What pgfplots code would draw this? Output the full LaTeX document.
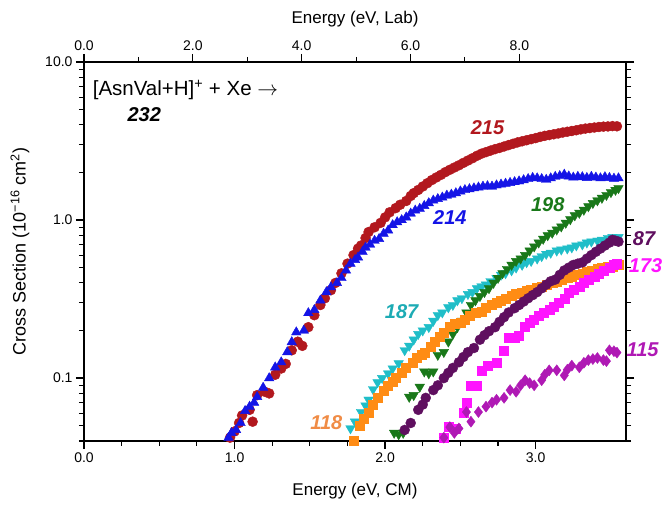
\documentclass[border=0pt]{standalone}
\usepackage{fontspec}
\setmainfont{Liberation Sans}
\usepackage{pgfplots}
\pgfplotsset{compat=1.18}
\definecolor{cRed}{RGB}{178,24,30}
\definecolor{cBlue}{RGB}{20,20,230}
\definecolor{cGreen}{RGB}{25,120,25}
\definecolor{cCyan}{RGB}{32,190,200}
\definecolor{cOrange}{RGB}{255,140,20}
\definecolor{cOrangeL}{RGB}{240,140,70}
\definecolor{cPurple}{RGB}{95,15,95}
\definecolor{cMagenta}{RGB}{255,20,255}
\definecolor{cViolet}{RGB}{175,25,180}
\begin{document}
\begin{tikzpicture}
\pgfplotsset{
  common/.style={
    scale only axis, width=542pt, height=379pt,
    tick align=outside,
    major tick length=8pt, minor tick length=5pt,
    axis line style={line width=1.3pt},
    major tick style={line width=1.3pt, black},
    minor tick style={line width=1.1pt, black},
    /pgf/number format/assume math mode=true,
    tick label style={font=\fontsize{14}{16}\selectfont},
    label style={font=\fontsize{17}{20}\selectfont},
  }
}
\begin{axis}[common,
  xmin=0, xmax=3.6, ymin=0.04, ymax=10, ymode=log,
  xtick={0,1,2,3}, minor x tick num=3, xtick pos=bottom,
  xticklabel style={/pgf/number format/.cd,fixed,fixed zerofill,precision=1},
  ytick={0.1,1,10}, yticklabels={0.1,1.0,10.0},
  minor ytick={0.04,0.05,0.06,0.07,0.08,0.09,0.2,0.3,0.4,0.5,0.6,0.7,0.8,0.9,2,3,4,5,6,7,8,9},
  ytick pos=both, yticklabel pos=left,
  xlabel={Energy (eV, CM)}, xlabel shift=14pt,
  ylabel={Cross Section (10\textsuperscript{−16} cm\textsuperscript{2})}, ylabel shift=9pt,
  ylabel style={font=\fontsize{18}{20}\selectfont},
  clip=false,
]
\addplot[only marks, mark=*, mark size=5pt, color=cRed] coordinates {
(0.97,0.042)(1.00,0.046)(1.03,0.052)(1.05,0.058)(1.10,0.063)(1.12,0.053)(1.15,0.078)(1.20,0.082)(1.23,0.080)(1.27,0.105)(1.31,0.115)(1.34,0.123)(1.38,0.150)(1.42,0.17)(1.45,0.16)(1.49,0.21)(1.53,0.25)(1.57,0.29)(1.60,0.32)(1.64,0.36)(1.67,0.40)(1.71,0.46)(1.75,0.53)(1.79,0.60)(1.82,0.66)(1.84,0.69)(1.87,0.77)(1.89,0.84)(1.93,0.90)(1.97,0.96)(2.00,1.04)(2.03,1.12)(2.07,1.19)(2.10,1.25)(2.14,1.32)(2.17,1.42)(2.19,1.48)
(2.22,1.55)(2.25,1.63)(2.28,1.71)(2.31,1.79)(2.34,1.86)(2.37,1.93)(2.40,2.01)(2.43,2.08)(2.46,2.15)(2.49,2.22)(2.52,2.30)(2.55,2.38)(2.58,2.46)(2.61,2.55)(2.64,2.63)(2.67,2.69)(2.70,2.75)(2.73,2.81)(2.76,2.86)(2.79,2.92)(2.82,2.98)(2.85,3.04)(2.88,3.10)(2.91,3.15)(2.94,3.20)(2.97,3.25)(3.00,3.30)(3.03,3.36)(3.06,3.41)(3.09,3.45)(3.12,3.49)(3.15,3.53)(3.18,3.58)(3.21,3.62)(3.24,3.66)(3.27,3.70)(3.30,3.75)(3.33,3.79)(3.36,3.82)(3.39,3.85)(3.42,3.88)(3.45,3.90)(3.48,3.91)(3.51,3.93)(3.54,3.92)
};
\addplot[only marks, mark=triangle*, mark size=5.5pt, color=cBlue] coordinates {
(0.96,0.042)(0.98,0.045)(1.01,0.047)(1.04,0.052)(1.07,0.062)(1.10,0.066)(1.13,0.070)(1.15,0.076)(1.19,0.087)(1.23,0.100)(1.27,0.117)(1.31,0.126)(1.35,0.146)(1.38,0.169)(1.41,0.195)(1.46,0.20)(1.49,0.258)(1.53,0.27)(1.57,0.31)(1.61,0.35)(1.64,0.376)(1.68,0.40)(1.71,0.43)(1.74,0.48)(1.77,0.53)(1.80,0.56)(1.82,0.58)(1.85,0.63)(1.87,0.67)(1.90,0.70)(1.93,0.74)(1.96,0.76)(1.99,0.82)(2.02,0.86)(2.05,0.93)(2.08,0.97)(2.11,1.00)(2.14,1.04)(2.17,1.10)(2.20,1.15)(2.23,1.18)(2.26,1.23)(2.29,1.28)(2.32,1.33)(2.35,1.36)(2.38,1.39)(2.41,1.43)(2.44,1.45)(2.47,1.48)(2.50,1.52)(2.53,1.55)(2.56,1.57)(2.59,1.59)(2.62,1.61)(2.65,1.63)(2.68,1.64)(2.71,1.63)(2.74,1.66)(2.77,1.68)(2.80,1.70)(2.83,1.72)(2.86,1.74)(2.89,1.76)(2.92,1.79)(2.95,1.82)(2.98,1.85)(3.01,1.84)(3.04,1.82)(3.07,1.80)(3.10,1.84)(3.13,1.88)(3.16,1.90)(3.19,1.94)(3.22,1.89)(3.25,1.86)(3.28,1.88)(3.31,1.87)(3.34,1.85)(3.37,1.88)(3.40,1.86)(3.43,1.84)(3.46,1.87)(3.49,1.85)(3.52,1.83)(3.55,1.84)
};
\addplot[only marks, mark=triangle*, mark size=5.5pt, mark options={rotate=180}, color=cCyan] coordinates {
(1.77,0.048)(1.80,0.053)(1.84,0.061)(1.87,0.067)(1.89,0.073)(1.92,0.085)(1.95,0.094)(1.98,0.10)(2.02,0.107)(2.05,0.115)(2.09,0.124)(2.13,0.15)(2.16,0.16)(2.19,0.175)(2.22,0.19)(2.25,0.20)(2.29,0.21)(2.32,0.23)(2.35,0.25)(2.38,0.26)(2.42,0.28)(2.45,0.29)(2.48,0.31)(2.51,0.32)(2.55,0.34)(2.58,0.35)(2.61,0.37)(2.64,0.38)(2.67,0.39)(2.70,0.41)(2.74,0.43)(2.77,0.45)(2.80,0.46)(2.84,0.48)(2.87,0.50)(2.91,0.52)(2.94,0.54)(2.97,0.55)(3.01,0.57)(3.04,0.59)(3.07,0.61)(3.10,0.62)(3.14,0.64)(3.17,0.65)(3.21,0.66)(3.24,0.67)(3.27,0.69)(3.31,0.70)(3.34,0.72)(3.37,0.73)(3.41,0.74)(3.44,0.75)(3.48,0.77)(3.51,0.78)(3.55,0.78)
};
\addplot[only marks, mark=triangle*, mark size=5.5pt, mark options={rotate=180}, color=cGreen] coordinates {
(2.06,0.045)(2.09,0.044)(2.12,0.045)(2.16,0.076)(2.19,0.078)(2.23,0.088)(2.26,0.11)(2.29,0.107)(2.32,0.11)(2.35,0.14)(2.39,0.146)(2.42,0.17)(2.45,0.19)(2.48,0.21)(2.51,0.23)(2.54,0.26)(2.57,0.29)(2.60,0.31)(2.63,0.33)(2.66,0.35)(2.69,0.37)(2.72,0.40)(2.75,0.43)(2.78,0.46)(2.81,0.49)(2.84,0.52)(2.87,0.55)(2.90,0.57)(2.93,0.60)(2.96,0.64)(2.99,0.68)(3.02,0.72)(3.05,0.76)(3.08,0.80)(3.11,0.83)(3.14,0.87)(3.17,0.91)(3.20,0.96)(3.23,1.01)(3.26,1.07)(3.29,1.11)(3.32,1.16)(3.35,1.22)(3.38,1.28)(3.41,1.33)(3.44,1.38)(3.47,1.44)(3.50,1.50)(3.53,1.55)(3.55,1.59)
};
\addplot[only marks, mark=square*, mark size=4.5pt, color=cOrange] coordinates {
(1.79,0.040)(1.83,0.05)(1.86,0.055)(1.89,0.06)(1.92,0.068)(1.95,0.075)(1.99,0.083)(2.02,0.09)(2.05,0.095)(2.07,0.10)(2.11,0.108)(2.14,0.116)(2.18,0.125)(2.21,0.134)(2.24,0.14)(2.26,0.144)(2.30,0.158)(2.33,0.17)(2.36,0.183)(2.39,0.195)(2.43,0.21)(2.46,0.22)(2.50,0.225)(2.53,0.235)(2.56,0.25)(2.60,0.26)(2.64,0.265)(2.67,0.28)(2.71,0.29)(2.74,0.30)(2.77,0.31)(2.80,0.32)(2.84,0.33)(2.87,0.34)(2.91,0.345)(2.94,0.355)(2.97,0.365)(3.01,0.375)(3.04,0.38)(3.07,0.39)(3.11,0.40)(3.14,0.41)(3.17,0.42)(3.21,0.43)(3.24,0.44)(3.27,0.45)(3.31,0.46)(3.34,0.47)(3.37,0.48)(3.41,0.49)(3.44,0.50)(3.48,0.505)(3.51,0.51)(3.55,0.52)
};
\addplot[only marks, mark=*, mark size=5pt, color=cPurple] coordinates {
(2.13,0.047)(2.17,0.052)(2.22,0.063)(2.25,0.068)(2.27,0.075)(2.32,0.084)(2.35,0.090)(2.39,0.10)(2.42,0.108)(2.45,0.116)(2.49,0.126)(2.52,0.136)(2.55,0.146)(2.59,0.155)(2.63,0.175)(2.66,0.187)(2.69,0.198)(2.73,0.21)(2.76,0.227)(2.79,0.243)(2.82,0.26)(2.86,0.277)(2.89,0.29)(2.92,0.305)(2.95,0.32)(2.98,0.335)(3.01,0.35)(3.04,0.37)(3.07,0.39)(3.10,0.41)(3.13,0.42)(3.16,0.45)(3.19,0.48)(3.22,0.50)(3.25,0.52)(3.28,0.53)(3.31,0.54)(3.34,0.57)(3.37,0.60)(3.40,0.63)(3.43,0.66)(3.46,0.69)(3.49,0.72)(3.51,0.75)(3.53,0.74)(3.55,0.73)
};
\addplot[only marks, mark=square*, mark size=4.5pt, color=cMagenta] coordinates {
(2.39,0.042)(2.42,0.049)(2.47,0.048)(2.52,0.06)(2.54,0.07)(2.57,0.09)(2.61,0.09)(2.64,0.112)(2.68,0.12)(2.74,0.126)(2.79,0.15)(2.82,0.18)(2.86,0.18)(2.89,0.185)(2.93,0.21)(2.96,0.225)(2.99,0.235)(3.02,0.25)(3.05,0.26)(3.09,0.27)(3.12,0.285)(3.15,0.30)(3.19,0.32)(3.22,0.345)(3.25,0.36)(3.29,0.38)(3.32,0.40)(3.35,0.42)(3.39,0.44)(3.42,0.46)(3.45,0.48)(3.49,0.50)(3.52,0.52)(3.54,0.53)
};
\addplot[only marks, mark=diamond*, mark size=5.5pt, color=cViolet] coordinates {
(2.39,0.042)(2.43,0.049)(2.46,0.045)(2.49,0.048)(2.54,0.061)(2.57,0.053)(2.62,0.061)(2.67,0.066)(2.71,0.070)(2.74,0.073)(2.79,0.075)(2.83,0.084)(2.87,0.082)(2.90,0.090)(2.93,0.097)(2.96,0.093)(2.99,0.090)(3.04,0.097)(3.06,0.105)(3.09,0.112)(3.14,0.112)(3.19,0.104)(3.21,0.113)(3.24,0.12)(3.29,0.117)(3.32,0.125)(3.35,0.13)(3.38,0.132)(3.41,0.134)(3.45,0.13)(3.47,0.128)(3.49,0.15)(3.52,0.148)(3.54,0.145)
};
\tikzset{lab/.style={font=\fontsize{20}{24}\selectfont\bfseries\itshape}}
\node[lab, cRed] at (axis cs:2.68,3.82) {215};
\node[lab, cBlue] at (axis cs:2.43,1.04) {214};
\node[lab, cGreen] at (axis cs:3.08,1.26) {198};
\node[lab, cCyan!90!black] at (axis cs:2.11,0.262) {187};
\node[lab, cOrangeL] at (axis cs:1.61,0.052) {118};
\node[lab, cPurple] at (axis cs:3.72,0.758) {87};
\node[lab, cMagenta] at (axis cs:3.73,0.512) {173};
\node[lab, cViolet] at (axis cs:3.71,0.152) {115};
\node[anchor=west, font=\fontsize{20.5}{23}\selectfont] at (axis cs:0.035,6.65) {[AsnVal+H]\textsuperscript{+} + Xe $\rightarrow$};
\node[lab, black] at (axis cs:0.40,4.62) {232};
\end{axis}
\begin{axis}[common,
  xmin=0, xmax=9.96, ymin=0, ymax=1,
  axis x line*=top, axis y line=none,
  xtick={0,2,4,6,8}, minor x tick num=1,
  xticklabel style={/pgf/number format/.cd,fixed,fixed zerofill,precision=1},
  xlabel={Energy (eV, Lab)}, xlabel shift=7pt,
]
\addplot[draw=none] coordinates {(0,0)(1,1)};
\end{axis}
\pgfresetboundingbox
\path[use as bounding box] (-84pt,-67pt) rectangle (582pt,441pt);
\end{tikzpicture}
\end{document}
